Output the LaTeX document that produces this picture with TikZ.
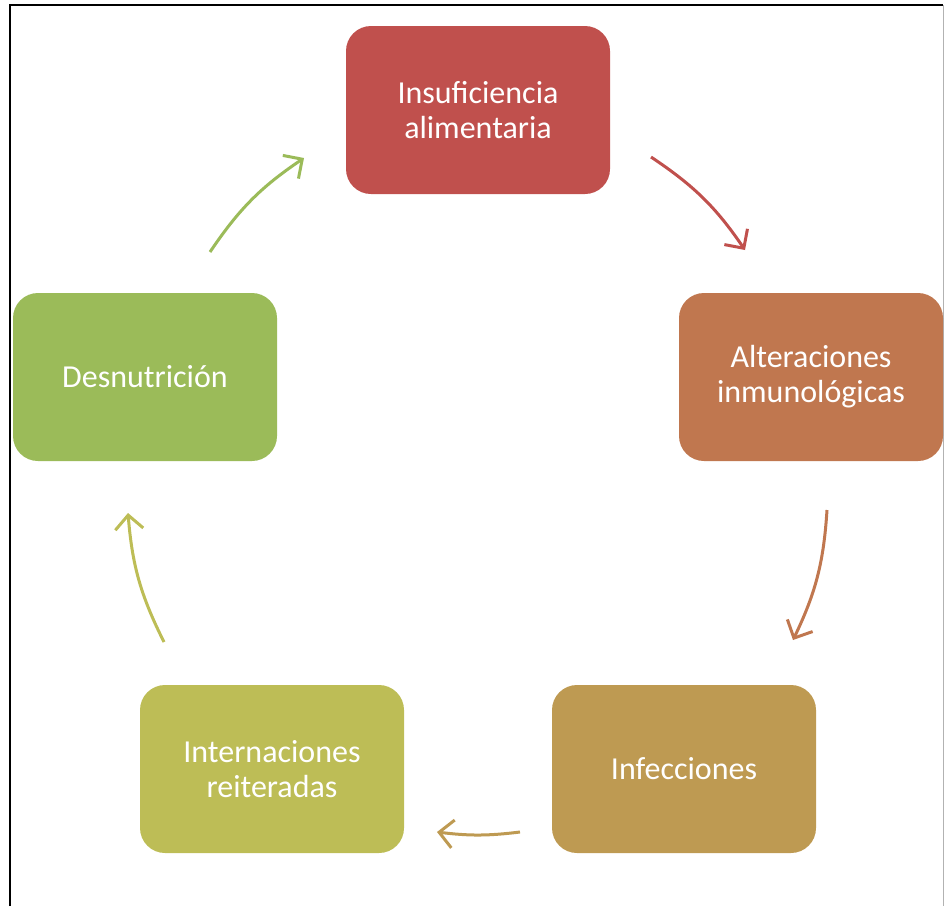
\documentclass[tikz,border=0pt]{standalone}
\usepackage{fontspec}
\setmainfont{Carlito}
\usetikzlibrary{arrows.meta}

\definecolor{cRed}{HTML}{C0504D}
\definecolor{cOrange}{HTML}{C0774F}
\definecolor{cGold}{HTML}{BE9A52}
\definecolor{cOlive}{HTML}{BDBD56}
\definecolor{cGreen}{HTML}{9BBB59}

\begin{document}
\begin{tikzpicture}[
  x=1pt, y=-1pt,
  stage/.style={
    fill=#1,
    rounded corners=25pt,
    minimum width=264pt,
    minimum height=168pt,
    text=white,
    align=center,
    font=\fontsize{32}{35}\selectfont
  },
  cyc/.style={
    draw=#1,
    line width=3pt,
    -{Straight Barb[length=14pt,width=28pt]},
    bend left=11
  }
]

\useasboundingbox (0,0) rectangle (945,906);

% Frame
\draw[line width=2pt] (10,906) -- (10,5) -- (943,5);
\draw[gray!60, line width=1pt] (943,5) -- (943,906);

% Nodes
\node[stage=cRed] (ins) at (478,110) {Insuficiencia\\alimentaria};
\node[stage=cOrange] (alt) at (811,377) {Alteraciones\\inmunológicas};
\node[stage=cGold] (inf) at (684,769) {Infecciones};
\node[stage=cOlive] (int) at (272,769) {Internaciones\\reiteradas};
\node[stage=cGreen] (des) at (145,377) {Desnutrición};

% Arrow ends
\coordinate (a1s) at (651,157);
\coordinate (a1e) at (745,250);
\coordinate (a2s) at (827,510);
\coordinate (a2e) at (793,640);
\coordinate (a3s) at (520,832);
\coordinate (a3e) at (437,832);
\coordinate (a4s) at (164,642);
\coordinate (a4e) at (128,513);
\coordinate (a5s) at (210,252);
\coordinate (a5e) at (304,158);

% Cycle
\draw[cyc=cRed] (a1s) to (a1e);
\draw[cyc=cOrange] (a2s) to (a2e);
\draw[cyc=cGold, bend left=7] (a3s) to (a3e);
\draw[cyc=cOlive] (a4s) to (a4e);
\draw[cyc=cGreen] (a5s) to (a5e);

\end{tikzpicture}
\end{document}
